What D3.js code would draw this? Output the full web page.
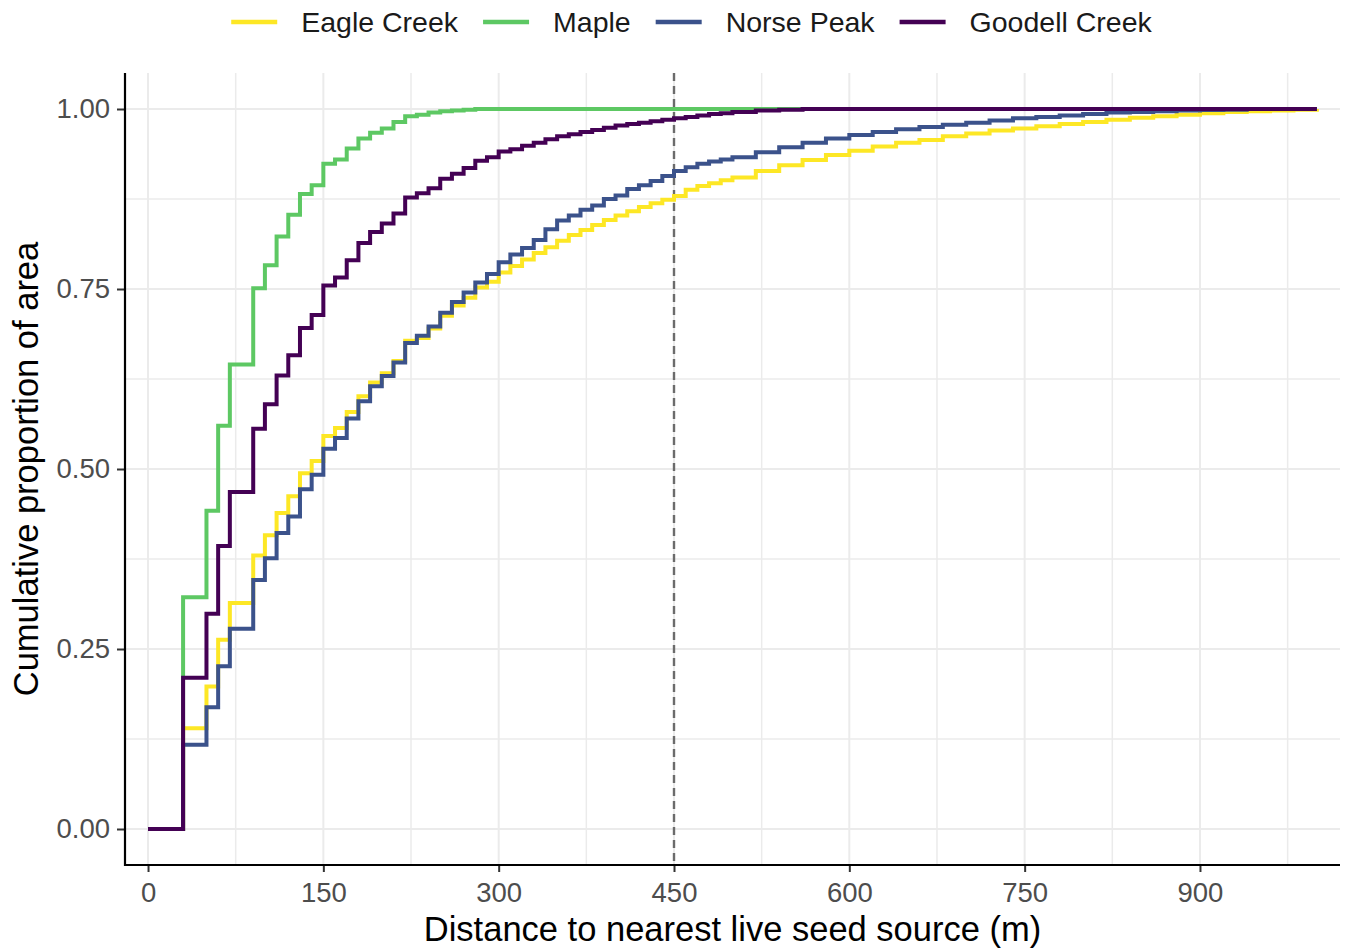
<!DOCTYPE html>
<html>
<head>
<meta charset="utf-8">
<script src="https://cdn.jsdelivr.net/npm/d3@7"></script>
<style>
  html, body { margin: 0; padding: 0; background: #fff; }
  svg { display: block; font-family: "Liberation Sans", Arial, sans-serif; }
</style>
</head>
<body>
<svg id="chart" width="1348" height="951"></svg>
<script>
// ---------------- data ----------------
const seriesNames = ["Eagle Creek", "Maple", "Norse Peak", "Goodell Creek"];
const seriesColors = ["#FDE725", "#5DC863", "#3B528B", "#440154"];

const distances = [0, 30, 40, 50, 60, 70, 80, 90, 100, 110, 120, 130, 140, 150, 160, 170, 180, 190, 200,
  210, 220, 230, 240, 250, 260, 270, 280, 290, 300, 310, 320, 330, 340, 350, 360, 370, 380, 390, 400,
  410, 420, 430, 440, 450, 460, 470, 480, 490, 500,
  520, 540, 560, 580, 600, 620, 640, 660, 680, 700, 720, 740, 760, 780, 800, 820, 840, 860, 880, 900,
  920, 940, 960, 980, 1000];

const eagleCreek = [0, .140, .140, .198, .263, .314, .314, .380, .408, .439, .462, .494, .511, .546, .557, .579, .601, .620, .633,
  .650, .678, .682, .695, .713, .727, .738, .752, .760, .773, .782, .791, .800, .808, .817, .825, .832, .839, .846, .852,
  .858, .864, .869, .874, .879, .888, .893, .897, .901, .905,
  .914, .922, .929, .936, .942, .948, .953, .957, .962, .966, .970, .973, .976, .979, .982, .985, .988, .990, .992, .994,
  .996, .997, .998, .999, 1.0];

const maple = [0, .322, .322, .442, .560, .645, .645, .751, .783, .823, .853, .882, .894, .924, .930, .945, .959, .967, .973,
  .982, .990, .992, .995, .997, .998, .999, 1, 1, 1, 1, 1, 1, 1, 1, 1, 1, 1, 1, 1,
  1, 1, 1, 1, 1, 1, 1, 1, 1, 1,
  1, 1, 1, 1, 1, 1, 1, 1, 1, 1, 1, 1, 1, 1, 1, 1, 1, 1, 1, 1,
  1, 1, 1, 1, 1];

const norsePeak = [0, .117, .117, .169, .226, .278, .278, .346, .376, .411, .434, .472, .492, .528, .543, .570, .594, .615, .629,
  .648, .675, .685, .698, .717, .732, .745, .759, .771, .787, .798, .807, .818, .833, .845, .852, .860, .866, .875, .880,
  .889, .894, .900, .907, .914, .919, .924, .927, .930, .933,
  .940, .947, .953, .959, .964, .968, .972, .975, .978, .981, .984, .987, .989, .991, .993, .995, .996, .997, .998, .9985,
  .999, 1, 1, 1, 1];

const goodellCreek = [0, .210, .210, .299, .393, .468, .468, .556, .590, .630, .658, .696, .714, .755, .766, .790, .814, .829, .841,
  .855, .877, .883, .890, .903, .910, .918, .928, .933, .941, .944, .949, .953, .958, .962, .965, .968, .971, .974, .977,
  .979, .981, .983, .985, .987, .989, .991, .993, .994, .996,
  .998, .999, 1, 1, 1, 1, 1, 1, 1, 1, 1, 1, 1, 1, 1, 1, 1, 1, 1, 1,
  1, 1, 1, 1, 1];

const xTicks = [0, 150, 300, 450, 600, 750, 900];
const xMinor = [75, 225, 375, 525, 675, 825, 975];
const yTicks = [0, 0.25, 0.5, 0.75, 1.0];
const yMinor = [0.125, 0.375, 0.625, 0.875];
const referenceDistance = 450;
const xTitle = "Distance to nearest live seed source (m)";
const yTitle = "Cumulative proportion of area";

// ---------------- layout ----------------
const svg = d3.select("#chart");
const panel = { left: 125, right: 1340, top: 73, bottom: 865 };

const x = d3.scaleLinear().domain([-19.7, 1019.8]).range([panel.left, panel.right]);
const y = d3.scaleLinear().domain([-0.05, 1.05]).range([panel.bottom, panel.top]);

const series = [eagleCreek, maple, norsePeak, goodellCreek].map((vals, i) => ({
  name: seriesNames[i], color: seriesColors[i],
  points: distances.map((d, j) => [d, vals[j]])
}));

// grid
const grid = svg.append("g");
grid.selectAll(".xminor").data(xMinor).join("line")
  .attr("x1", d => x(d)).attr("x2", d => x(d)).attr("y1", panel.top).attr("y2", panel.bottom)
  .attr("stroke", "#EBEBEB").attr("stroke-width", 1.5);
grid.selectAll(".yminor").data(yMinor).join("line")
  .attr("y1", d => y(d)).attr("y2", d => y(d)).attr("x1", panel.left).attr("x2", panel.right)
  .attr("stroke", "#EBEBEB").attr("stroke-width", 1.5);
grid.selectAll(".xmajor").data(xTicks).join("line")
  .attr("x1", d => x(d)).attr("x2", d => x(d)).attr("y1", panel.top).attr("y2", panel.bottom)
  .attr("stroke", "#EBEBEB").attr("stroke-width", 2);
grid.selectAll(".ymajor").data(yTicks).join("line")
  .attr("y1", d => y(d)).attr("y2", d => y(d)).attr("x1", panel.left).attr("x2", panel.right)
  .attr("stroke", "#EBEBEB").attr("stroke-width", 2);

// reference dashed line
svg.append("line")
  .attr("x1", x(referenceDistance)).attr("x2", x(referenceDistance))
  .attr("y1", panel.top).attr("y2", panel.bottom)
  .attr("stroke", "#6b6b6b").attr("stroke-width", 2.4).attr("stroke-dasharray", "8,5");

// step lines
const line = d3.line().x(d => x(d[0])).y(d => y(d[1])).curve(d3.curveStepAfter);
svg.append("g").selectAll("path").data(series).join("path")
  .attr("d", d => line(d.points))
  .attr("fill", "none").attr("stroke", d => d.color).attr("stroke-width", 4)
  .attr("stroke-linejoin", "miter").attr("stroke-linecap", "butt");

// axes
const xAxis = svg.append("g").attr("transform", `translate(0,${panel.bottom})`)
  .call(d3.axisBottom(x).tickValues(xTicks).tickSize(7).tickPadding(10).tickFormat(d3.format("d")));
const yAxis = svg.append("g").attr("transform", `translate(${panel.left},0)`)
  .call(d3.axisLeft(y).tickValues(yTicks).tickSize(8).tickPadding(7).tickFormat(d3.format(".2f")));
[xAxis, yAxis].forEach(g => {
  g.select(".domain").remove();
  g.selectAll(".tick line").attr("stroke", "#333").attr("stroke-width", 2);
  g.selectAll(".tick text").attr("fill", "#4D4D4D").attr("font-size", 27.5)
    .attr("font-family", "Liberation Sans, Arial, sans-serif");
});
// axis lines
svg.append("line").attr("x1", panel.left - 1).attr("x2", panel.right).attr("y1", panel.bottom).attr("y2", panel.bottom)
  .attr("stroke", "#000").attr("stroke-width", 2.2);
svg.append("line").attr("x1", panel.left).attr("x2", panel.left).attr("y1", panel.top).attr("y2", panel.bottom + 1)
  .attr("stroke", "#000").attr("stroke-width", 2.2);

// titles
svg.append("text").attr("x", (panel.left + panel.right) / 2).attr("y", 941)
  .attr("text-anchor", "middle").attr("font-size", 34.5).attr("fill", "#000").text(xTitle);
svg.append("text").attr("transform", `translate(38,${(panel.top + panel.bottom) / 2}) rotate(-90)`)
  .attr("text-anchor", "middle").attr("font-size", 34.5).attr("fill", "#000").text(yTitle);

// legend
const legend = svg.append("g");
const keyW = 46, keyGap = 24, itemGap = 25, legendFont = 28.5;
let cx = 0;
series.forEach(s => {
  const g = legend.append("g");
  g.append("line").attr("x1", 0).attr("x2", keyW).attr("y1", 22).attr("y2", 22)
    .attr("stroke", s.color).attr("stroke-width", 4.5);
  const t = g.append("text").attr("x", keyW + keyGap).attr("y", 32)
    .attr("font-size", legendFont).attr("fill", "#1a1a1a").text(s.name);
  const w = keyW + keyGap + t.node().getComputedTextLength();
  g.attr("transform", `translate(${cx},0)`);
  cx += w + itemGap;
});
const totalW = cx - itemGap;
legend.attr("transform", `translate(${691.5 - totalW / 2},0)`);
</script>
</body>
</html>
